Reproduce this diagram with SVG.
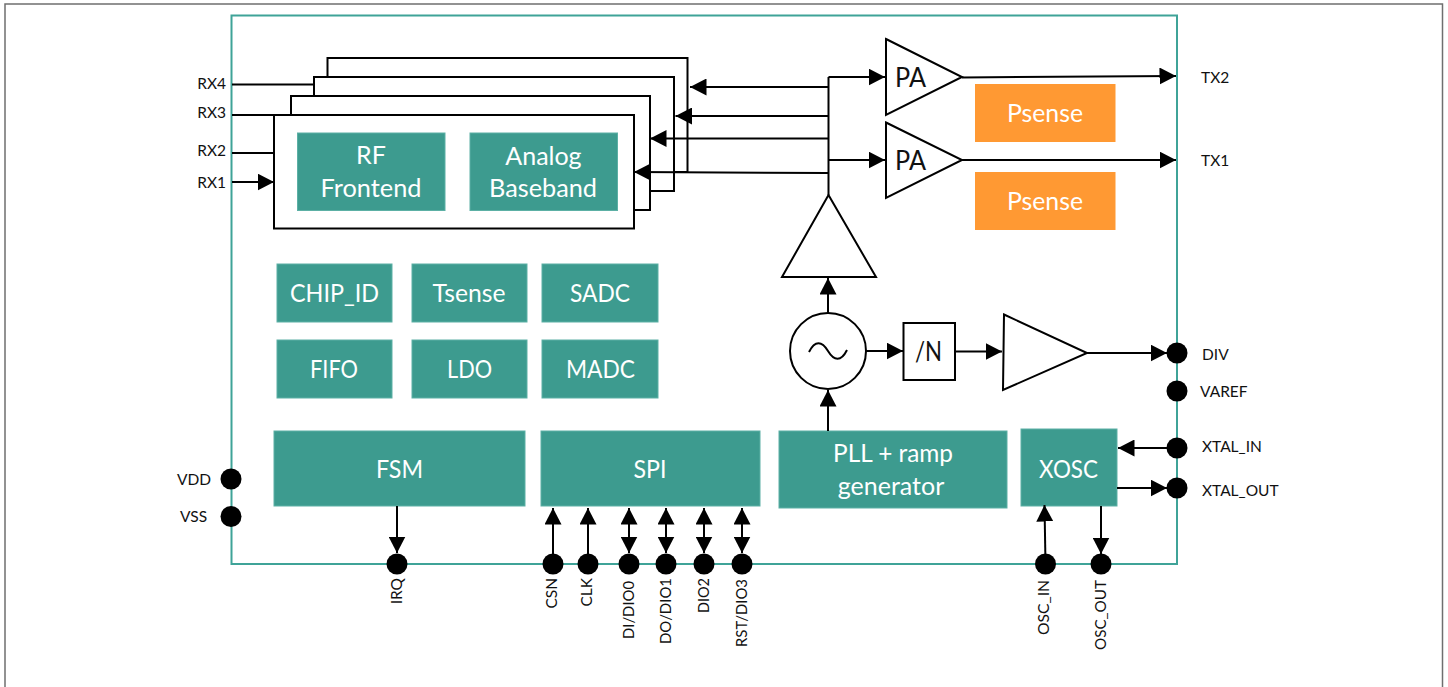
<svg xmlns="http://www.w3.org/2000/svg" width="1448" height="687" viewBox="0 0 1448 687">
<style>
text{font-family:"Lato","Open Sans","Liberation Sans",sans-serif}
.t{fill:#3d9b8f;stroke:#5cb0a5;stroke-width:1}
.o{fill:#ff9933}
.w{fill:#fff;font-size:25px;text-anchor:middle}
.l{fill:#111;font-size:15.5px}
.r{fill:#111;font-size:15.5px;text-anchor:end}
.k{fill:none;stroke:#000;stroke-width:2}
.b{fill:#fff;stroke:#000;stroke-width:2}
.d{fill:#000}
</style>
<defs>
<marker id="a" markerUnits="userSpaceOnUse" markerWidth="17" markerHeight="17" refX="16.5" refY="8.5" orient="auto-start-reverse"><path d="M0 0L16.5 8.5L0 17Z" fill="#000"/></marker>
</defs>
<rect width="1448" height="687" fill="#fff"/>
<path id="frame" d="M5 687V4H1442.500V687" fill="none" stroke="#6f6f6f" stroke-width="1.500"/>
<rect id="chip" x="231.500" y="15.500" width="945.500" height="548.500" fill="none" stroke="#3fa398" stroke-width="2"/>
<g id="stack">
<rect class="b" x="327.500" y="58" width="360" height="114"/>
<rect class="b" x="314" y="77" width="360" height="114"/>
<rect class="b" x="291" y="96" width="359" height="114"/>
<rect class="b" x="274" y="115" width="360" height="113.500"/>
</g>
<g id="rf"><rect class="t" x="297.500" y="133" width="147.500" height="77.500"/><text class="w" x="371" y="164">RF</text><text class="w" x="371" y="197" textLength="101" lengthAdjust="spacingAndGlyphs">Frontend</text></g>
<g id="analog"><rect class="t" x="470" y="133" width="147.500" height="77.500"/><text class="w" x="543.500" y="165">Analog</text><text class="w" x="543" y="197" textLength="108" lengthAdjust="spacingAndGlyphs">Baseband</text></g>
<g id="psense1"><rect class="o" x="975" y="84" width="140.500" height="58"/><text class="w" x="1045" y="122" textLength="76" lengthAdjust="spacingAndGlyphs">Psense</text></g>
<g id="psense2"><rect class="o" x="975" y="172" width="140.500" height="58"/><text class="w" x="1045" y="210" textLength="76" lengthAdjust="spacingAndGlyphs">Psense</text></g>
<g id="chip_id"><rect class="t" x="277" y="264" width="115" height="58"/><text class="w" x="334.500" y="302" textLength="89" lengthAdjust="spacingAndGlyphs">CHIP_ID</text></g>
<g id="tsense"><rect class="t" x="412" y="264" width="115" height="58"/><text class="w" x="469" y="302" textLength="73" lengthAdjust="spacingAndGlyphs">Tsense</text></g>
<g id="sadc"><rect class="t" x="542" y="264" width="116" height="58"/><text class="w" x="600" y="302" textLength="60" lengthAdjust="spacingAndGlyphs">SADC</text></g>
<g id="fifo"><rect class="t" x="277" y="340" width="115" height="58"/><text class="w" x="334" y="378" textLength="48" lengthAdjust="spacingAndGlyphs">FIFO</text></g>
<g id="ldo"><rect class="t" x="412" y="340" width="115" height="58"/><text class="w" x="469.500" y="378" textLength="45" lengthAdjust="spacingAndGlyphs">LDO</text></g>
<g id="madc"><rect class="t" x="542" y="340" width="116" height="58"/><text class="w" x="600.500" y="378" textLength="69" lengthAdjust="spacingAndGlyphs">MADC</text></g>
<g id="fsm"><rect class="t" x="274" y="431" width="251" height="75"/><text class="w" x="399.500" y="478" textLength="47" lengthAdjust="spacingAndGlyphs">FSM</text></g>
<g id="spi"><rect class="t" x="541" y="431" width="219" height="75"/><text class="w" x="650" y="478" textLength="33" lengthAdjust="spacingAndGlyphs">SPI</text></g>
<g id="pll"><rect class="t" x="779" y="431" width="228" height="77"/><text class="w" x="893" y="462" textLength="120" lengthAdjust="spacingAndGlyphs">PLL + ramp</text><text class="w" x="891" y="495">generator</text></g>
<g id="xosc"><rect class="t" x="1021" y="429" width="96" height="77"/><text class="w" x="1068.500" y="478" textLength="59" lengthAdjust="spacingAndGlyphs">XOSC</text></g>
<g id="pa1"><path class="b" d="M886 39L962 77L886 115Z"/><text x="895" y="87" font-size="27" fill="#111" textLength="31" lengthAdjust="spacingAndGlyphs">PA</text></g>
<g id="pa2"><path class="b" d="M886 122.500L962 160L886 198Z"/><text x="895" y="170" font-size="27" fill="#111" textLength="31" lengthAdjust="spacingAndGlyphs">PA</text></g>
<g id="lo-amp"><path class="b" d="M828.500 195L876 277H782Z"/></g>
<g id="osc"><circle class="b" cx="828" cy="351" r="38"/><path class="k" d="M809 352C815 340 822 341 828 351C834 361 841 362 847 350"/></g>
<g id="div-n"><rect class="b" x="903.500" y="323" width="51.500" height="57"/><text x="928.500" y="361" font-size="27" fill="#111" text-anchor="middle" textLength="27" lengthAdjust="spacingAndGlyphs">/N</text></g>
<g id="div-amp"><path class="b" d="M1004 314.500L1087 353L1003 390Z"/></g>
<g id="connectors" class="k">
<path class="k" d="M232 84.500H314M232 115H274M232 153H274"/>
<path class="k" marker-end="url(#a)" d="M232 182H274"/>
<path class="k" d="M828.500 195V77"/>
<path class="k" marker-end="url(#a)" d="M828.500 77H885"/>
<path class="k" marker-end="url(#a)" d="M828.500 160H885"/>
<path class="k" marker-end="url(#a)" d="M828.500 87H690"/>
<path class="k" marker-end="url(#a)" d="M828.500 116H675.500"/>
<path class="k" marker-end="url(#a)" d="M828.500 138.500H650"/>
<path class="k" marker-end="url(#a)" d="M828.500 173L634 172"/>
<path class="k" marker-end="url(#a)" d="M962 77.500L1176 76"/>
<path class="k" marker-end="url(#a)" d="M962 160H1176"/>
<path class="k" marker-end="url(#a)" d="M828 313V278"/>
<path class="k" marker-end="url(#a)" d="M828 431V390"/>
<path class="k" marker-end="url(#a)" d="M866 351H903"/>
<path class="k" marker-end="url(#a)" d="M955 351.500H1002"/>
<path class="k" marker-end="url(#a)" d="M1087 353H1167"/>
<path class="k" marker-end="url(#a)" d="M1177 448H1118"/>
<path class="k" marker-end="url(#a)" d="M1117 488H1167"/>
<path class="k" marker-end="url(#a)" d="M1045.500 564L1044.500 505"/>
<path class="k" marker-end="url(#a)" d="M1101 506V554"/>
<path class="k" marker-end="url(#a)" d="M397 506V553"/>
<path class="k" marker-end="url(#a)" d="M553 564V508"/>
<path class="k" marker-end="url(#a)" d="M588 564V508"/>
<path class="k" marker-start="url(#a)" marker-end="url(#a)" d="M629 508V553"/>
<path class="k" marker-start="url(#a)" marker-end="url(#a)" d="M666 508V553"/>
<path class="k" marker-start="url(#a)" marker-end="url(#a)" d="M704 508V553"/>
<path class="k" marker-start="url(#a)" marker-end="url(#a)" d="M742 508V553"/>
</g>
<g id="pins" class="d">
<circle cx="1177" cy="353" r="10.500"/><circle cx="1177" cy="391" r="10.500"/><circle cx="1177" cy="448" r="10.500"/><circle cx="1177" cy="488" r="10.500"/>
<circle cx="231" cy="479" r="10.500"/><circle cx="231" cy="516.500" r="10.500"/>
<circle cx="397" cy="564" r="10.500"/><circle cx="553" cy="564" r="10.500"/><circle cx="588" cy="564" r="10.500"/><circle cx="629" cy="564" r="10.500"/><circle cx="666" cy="564" r="10.500"/><circle cx="704" cy="564" r="10.500"/><circle cx="742" cy="564" r="10.500"/><circle cx="1045.500" cy="564" r="10.500"/><circle cx="1101" cy="564" r="10.500"/>
</g>
<g id="labels">
<text class="r" x="226" y="88.500">RX4</text><text class="r" x="226" y="117.500">RX3</text><text class="r" x="226" y="156">RX2</text><text class="r" x="226" y="188">RX1</text>
<text class="l" x="1201" y="83">TX2</text><text class="l" x="1201" y="166">TX1</text>
<text class="l" x="1202" y="360">DIV</text><text class="l" x="1200" y="397">VAREF</text><text class="l" x="1202" y="452">XTAL_IN</text><text class="l" x="1202" y="496">XTAL_OUT</text>
<text class="l" x="177" y="485">VDD</text><text class="l" x="180" y="522">VSS</text>
<text class="r" transform="translate(402 578) rotate(-90)">IRQ</text>
<text class="r" transform="translate(557 578) rotate(-90)">CSN</text>
<text class="r" transform="translate(592 578) rotate(-90)">CLK</text>
<text class="r" transform="translate(634 581) rotate(-90)" textLength="58" lengthAdjust="spacingAndGlyphs">DI/DIO0</text>
<text class="r" transform="translate(671 578) rotate(-90)" textLength="66" lengthAdjust="spacingAndGlyphs">DO/DIO1</text>
<text class="r" transform="translate(709 578) rotate(-90)" textLength="35" lengthAdjust="spacingAndGlyphs">DIO2</text>
<text class="r" transform="translate(747 579) rotate(-90)" textLength="68" lengthAdjust="spacingAndGlyphs">RST/DIO3</text>
<text class="r" transform="translate(1049 580) rotate(-90)" textLength="55" lengthAdjust="spacingAndGlyphs">OSC_IN</text>
<text class="r" transform="translate(1106 580) rotate(-90)" textLength="70" lengthAdjust="spacingAndGlyphs">OSC_OUT</text>
</g>
</svg>
